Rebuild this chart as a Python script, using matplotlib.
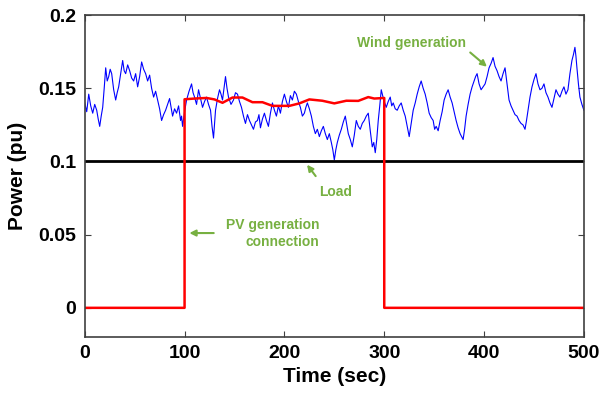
import numpy as np
import matplotlib
matplotlib.use('Agg')
import matplotlib.pyplot as plt

plt.rcParams['font.family'] = ['Liberation Sans', 'DejaVu Sans']
plt.rcParams['font.weight'] = 'bold'

# Wind generation (pu)
wind_t = [0, 2, 4, 6, 8, 10, 12, 13.5, 15, 16.5, 18, 19.5, 21, 22.5, 24, 25.5, 27, 29, 31, 32.5,
          34, 36, 38, 39.5, 41, 43, 45, 47, 49, 51, 53, 55, 57, 59, 61, 63, 65, 67, 69, 71,
          73, 75, 77, 79, 81, 83, 85, 86.5, 88, 90, 92, 94, 96, 97, 98, 100,
          102, 104.5, 107, 108.5, 110, 112, 114, 116, 118, 120, 122, 124, 126, 127.5, 129, 130,
          131, 133, 135, 136.5, 138, 139.5, 141, 142.5, 144, 146.5, 149, 151, 153, 155, 157, 159,
          161, 163, 165, 167, 169, 171, 173, 174.5, 176, 178, 180, 182, 184, 186, 188, 190,
          192, 194, 196, 198, 200,
          202, 204, 206, 208, 210, 212, 214, 216, 218, 220, 221.5, 223, 225, 227, 229, 231,
          233, 235, 237, 239, 241, 243, 245, 247, 248.5, 250, 251.5, 253, 255, 257, 259, 261,
          262.5, 264, 266, 268, 270, 272, 274, 276, 278, 280, 282, 284, 286, 288, 289.5, 291,
          292.5, 294, 295.5, 297, 299.5, 302,
          304, 306, 307.5, 309, 311, 313, 315, 317, 319, 321, 323, 325, 327, 329, 331, 333,
          335, 337, 339, 341, 343, 345, 347, 349, 350.5, 352, 354, 356, 358, 360, 362, 364,
          366, 368, 370, 372, 374, 376, 377.5, 379, 380.5, 382, 384, 386, 388, 390, 391.5, 393,
          395, 397, 399, 401,
          403, 405, 407, 409, 411, 413, 415, 417, 419, 421, 423, 425, 427, 429, 431, 433,
          435, 437, 439, 441, 442.5, 444, 446, 448, 450, 452, 454, 456, 458, 460, 462, 464,
          466, 468, 470, 472, 474, 476, 478, 480, 482, 484, 486, 488, 489.5, 491, 492, 493,
          494.5, 496, 498, 500]
wind_p = [0.140, 0.134, 0.146, 0.138, 0.133, 0.139, 0.135, 0.129, 0.124, 0.131, 0.137, 0.150,
          0.164, 0.155, 0.158, 0.163, 0.160, 0.149, 0.142, 0.147, 0.151, 0.160, 0.169, 0.162,
          0.160, 0.166, 0.162, 0.157, 0.155, 0.160, 0.151, 0.158, 0.168, 0.163, 0.160, 0.155,
          0.159, 0.150, 0.144, 0.148, 0.142, 0.136, 0.128, 0.132, 0.135, 0.139, 0.143, 0.137,
          0.131, 0.136, 0.133, 0.138, 0.128, 0.131, 0.124, 0.134,
          0.142, 0.148, 0.153, 0.147, 0.144, 0.139, 0.149, 0.143, 0.137, 0.141, 0.144, 0.139,
          0.135, 0.124, 0.116, 0.125, 0.135, 0.143, 0.149, 0.146, 0.142, 0.150, 0.158, 0.150,
          0.144, 0.139, 0.142, 0.147, 0.146, 0.141, 0.137, 0.131, 0.126, 0.132, 0.128, 0.125,
          0.122, 0.127, 0.128, 0.132, 0.123, 0.129, 0.133, 0.128, 0.124, 0.133, 0.140, 0.135,
          0.131, 0.138, 0.133, 0.141, 0.146,
          0.141, 0.137, 0.145, 0.142, 0.148, 0.146, 0.141, 0.137, 0.131, 0.133, 0.137, 0.140,
          0.136, 0.131, 0.124, 0.119, 0.122, 0.117, 0.121, 0.124, 0.119, 0.115, 0.119, 0.113,
          0.108, 0.101, 0.108, 0.113, 0.118, 0.122, 0.127, 0.131, 0.125, 0.119, 0.115, 0.110,
          0.118, 0.128, 0.124, 0.122, 0.126, 0.128, 0.131, 0.133, 0.121, 0.110, 0.113, 0.106,
          0.115, 0.128, 0.138, 0.149, 0.142, 0.137,
          0.141, 0.144, 0.138, 0.140, 0.136, 0.135, 0.138, 0.140, 0.135, 0.131, 0.124, 0.117,
          0.126, 0.135, 0.140, 0.146, 0.151, 0.155, 0.150, 0.146, 0.140, 0.133, 0.130, 0.128,
          0.122, 0.124, 0.121, 0.128, 0.134, 0.142, 0.146, 0.149, 0.144, 0.140, 0.134, 0.128,
          0.123, 0.119, 0.117, 0.115, 0.122, 0.131, 0.139, 0.146, 0.151, 0.155, 0.158, 0.160,
          0.153, 0.149, 0.151, 0.153,
          0.158, 0.164, 0.167, 0.171, 0.165, 0.162, 0.158, 0.155, 0.160, 0.164, 0.153, 0.142,
          0.138, 0.135, 0.132, 0.131, 0.128, 0.126, 0.125, 0.122, 0.128, 0.135, 0.144, 0.151,
          0.156, 0.160, 0.153, 0.149, 0.150, 0.153, 0.147, 0.144, 0.140, 0.137, 0.143, 0.149,
          0.146, 0.144, 0.148, 0.151, 0.146, 0.149, 0.160, 0.169, 0.173, 0.178, 0.172, 0.164,
          0.153, 0.144, 0.139, 0.135]

# PV generation (pu)
pv_t = [0, 100, 100, 110, 122, 130, 138, 148, 158, 168, 178, 188, 205, 215, 225, 238,
        250, 262, 274, 284, 290, 300, 300, 500]
pv_p = [0, 0, 0.1425, 0.143, 0.1434, 0.1424, 0.1401, 0.1437, 0.1437, 0.1405, 0.1405, 0.138,
        0.138, 0.1397, 0.1424, 0.1415, 0.1397, 0.1415, 0.1414, 0.144, 0.143, 0.1434, 0, 0]

# Load (pu)
load_t = [0, 500]
load_p = [0.1, 0.1]

green = '#77b041'

fig = plt.figure(figsize=(6.14, 3.98), dpi=100)
ax = fig.add_axes([0.138, 0.153, 0.813, 0.809])

ax.plot(wind_t, wind_p, color='#0000ff', lw=0.8)
ax.plot(load_t, load_p, color='black', lw=2)
ax.plot(pv_t, pv_p, color='#ff0000', lw=1.8)

ax.set_xlim(0, 500)
ax.set_ylim(-0.02, 0.2)
ax.set_xticks([0, 100, 200, 300, 400, 500])
ax.set_yticks([0, 0.05, 0.1, 0.15, 0.2])
ax.set_yticklabels(['0', '0.05', '0.1', '0.15', '0.2'])
ax.tick_params(direction='in', top=True, right=True, labelsize=14, color='#404040', length=4, pad=6)
for s in ax.spines.values():
    s.set_color('#404040')
    s.set_linewidth(1.2)
ax.set_xlabel('Time (sec)', fontsize=15, fontweight='bold', labelpad=3)
ax.set_ylabel('Power (pu)', fontsize=15, fontweight='bold', labelpad=8)

arrow = dict(arrowstyle='-|>', color=green, lw=1.5, mutation_scale=9)
ax.text(327, 0.181, 'Wind generation', color=green, fontsize=10, fontweight='bold',
        ha='center', va='center')
ax.annotate('', xy=(405, 0.1635), xytext=(384, 0.1757), arrowprops=arrow)
ax.annotate('', xy=(221, 0.0993), xytext=(233, 0.0885), arrowprops=arrow)
ax.text(251, 0.079, 'Load', color=green, fontsize=10, fontweight='bold', ha='center', va='center')
ax.annotate('', xy=(102, 0.0511), xytext=(132, 0.0511), arrowprops=arrow)
ax.text(235, 0.0508, 'PV generation\nconnection', color=green, fontsize=10,
        fontweight='bold', ha='right', va='center', multialignment='right', linespacing=1.2)

fig.savefig('out.png', dpi=100)
